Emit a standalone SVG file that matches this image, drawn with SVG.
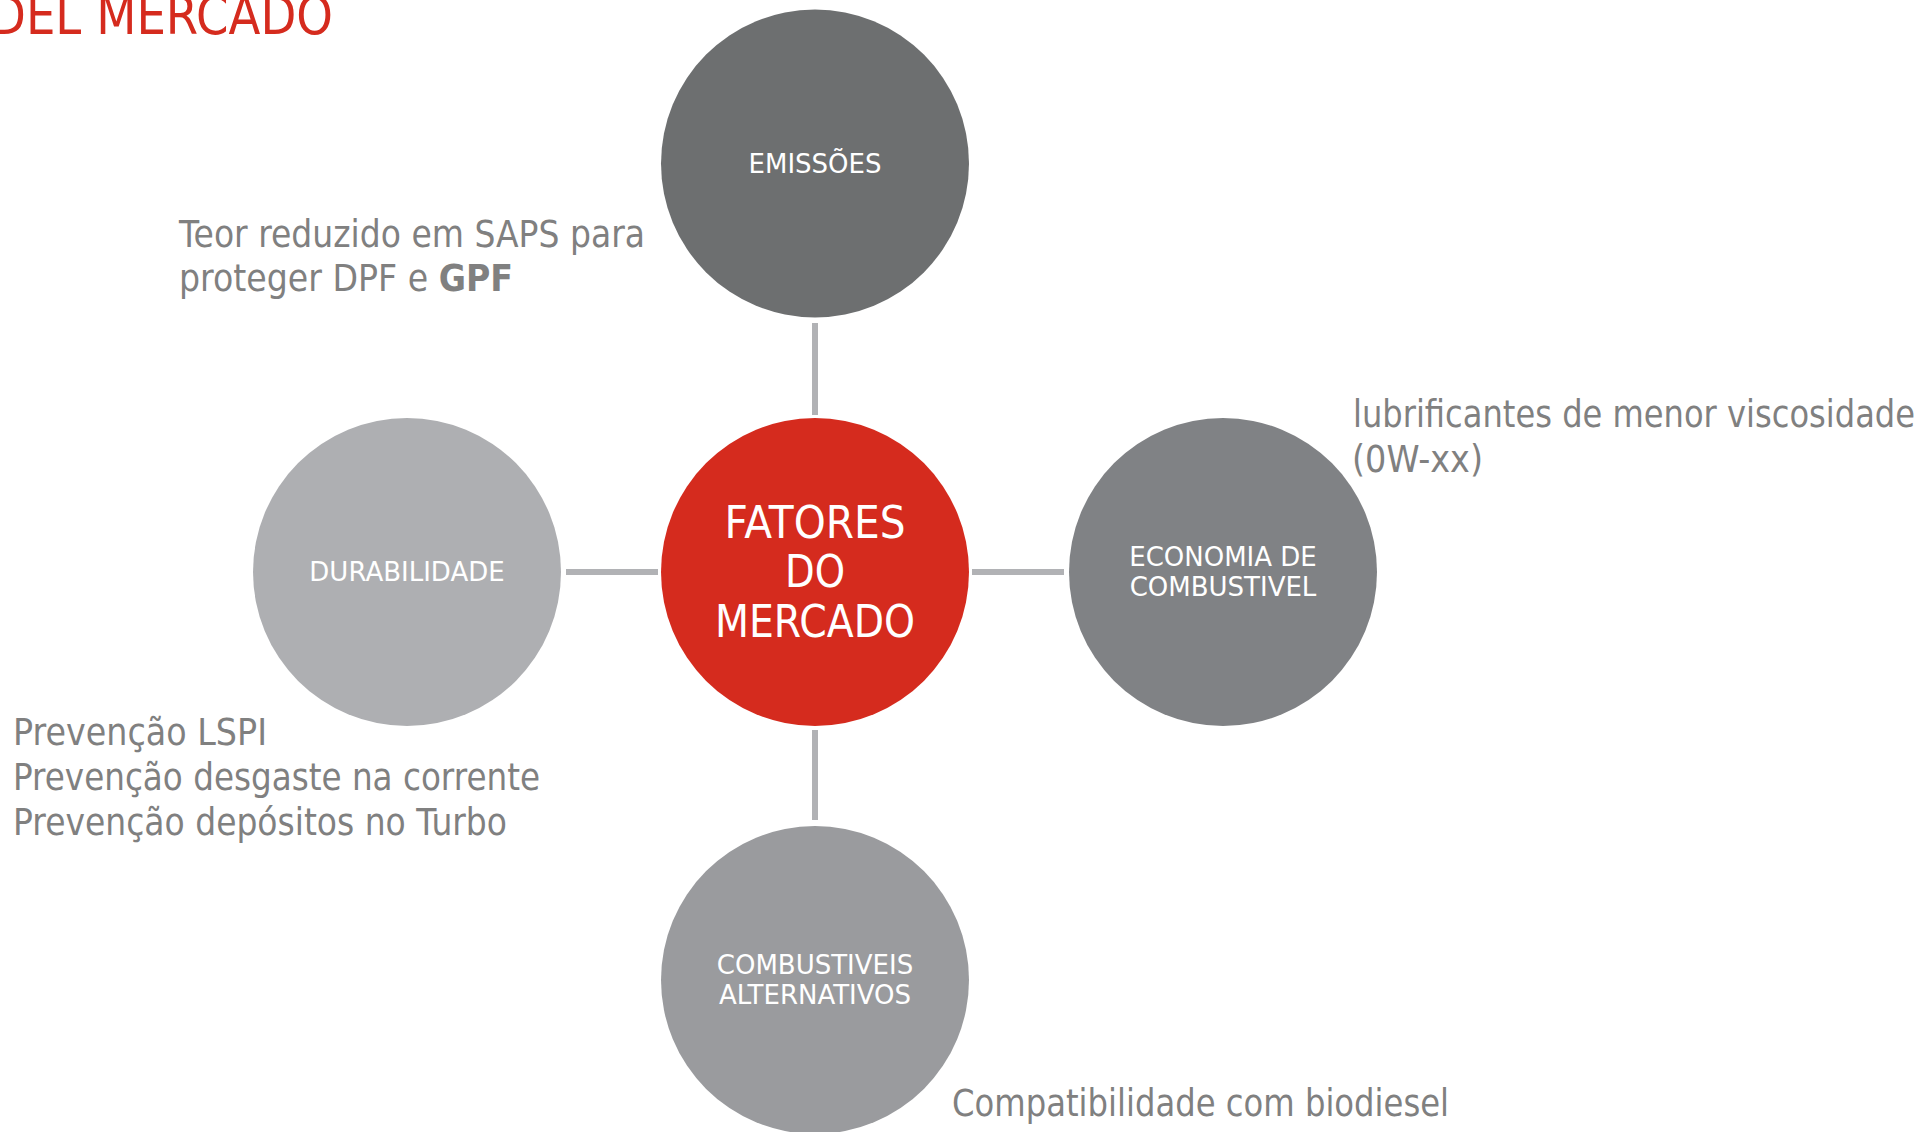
<svg xmlns="http://www.w3.org/2000/svg" width="1926" height="1132" viewBox="0 0 1926 1132">
<style>
.node-label{font-family:"DejaVu Sans","Liberation Sans",sans-serif;font-size:26px;fill:#ffffff;text-anchor:middle}
.center-label{font-family:"DejaVu Sans","Liberation Sans",sans-serif;font-size:45px;fill:#ffffff;text-anchor:middle}
.note{font-family:"DejaVu Sans","Liberation Sans",sans-serif;font-size:37px;fill:#808080}
.bold{font-weight:bold}
.title{font-family:"DejaVu Sans","Liberation Sans",sans-serif;font-size:54px;fill:#d52b1e}
.conn{stroke:#b1b2b5;stroke-width:6;fill:none}
</style>
<rect x="0" y="0" width="1926" height="1132" fill="#ffffff"/>
<text class="title" x="-10" y="34" textLength="343" lengthAdjust="spacingAndGlyphs">DEL MERCADO</text>
<g id="connectors">
<line class="conn" x1="815" y1="323" x2="815" y2="415"/>
<line class="conn" x1="566" y1="572" x2="658" y2="572"/>
<line class="conn" x1="972" y1="572" x2="1064" y2="572"/>
<line class="conn" x1="815" y1="730" x2="815" y2="820"/>
</g>
<g id="node-emissoes">
<circle cx="815" cy="163.5" r="154" fill="#6d6f70"/>
<text class="node-label" x="815" y="173">EMISSÕES</text>
</g>
<g id="node-durabilidade">
<circle cx="407" cy="572" r="154" fill="#aeafb2"/>
<text class="node-label" x="407" y="581">DURABILIDADE</text>
</g>
<g id="node-economia">
<circle cx="1223" cy="572" r="154" fill="#808285"/>
<text class="node-label" x="1223" y="566">ECONOMIA DE</text>
<text class="node-label" x="1223" y="596">COMBUSTIVEL</text>
</g>
<g id="node-combustiveis">
<circle cx="815" cy="980" r="154" fill="#9a9b9e"/>
<text class="node-label" x="815" y="974">COMBUSTIVEIS</text>
<text class="node-label" x="815" y="1004">ALTERNATIVOS</text>
</g>
<g id="node-fatores">
<circle cx="815" cy="572" r="154" fill="#d52b1e"/>
<text class="center-label" x="815" y="538" textLength="181" lengthAdjust="spacingAndGlyphs">FATORES</text>
<text class="center-label" x="815" y="587" textLength="60" lengthAdjust="spacingAndGlyphs">DO</text>
<text class="center-label" x="815" y="637" textLength="200" lengthAdjust="spacingAndGlyphs">MERCADO</text>
</g>
<g id="notes">
<text class="note" x="179" y="247" textLength="466" lengthAdjust="spacingAndGlyphs">Teor reduzido em SAPS para</text>
<text class="note" x="179" y="291" textLength="334" lengthAdjust="spacingAndGlyphs">proteger DPF e <tspan class="bold">GPF</tspan></text>
<text class="note" x="1353" y="427" textLength="562" lengthAdjust="spacingAndGlyphs">lubrificantes de menor viscosidade</text>
<text class="note" x="1352" y="472" textLength="131" lengthAdjust="spacingAndGlyphs">(0W-xx)</text>
<text class="note" x="13" y="745" textLength="254" lengthAdjust="spacingAndGlyphs">Prevenção LSPI</text>
<text class="note" x="13" y="790" textLength="527" lengthAdjust="spacingAndGlyphs">Prevenção desgaste na corrente</text>
<text class="note" x="13" y="835" textLength="494" lengthAdjust="spacingAndGlyphs">Prevenção depósitos no Turbo</text>
<text class="note" x="952" y="1116" textLength="497" lengthAdjust="spacingAndGlyphs">Compatibilidade com biodiesel</text>
</g>
</svg>
